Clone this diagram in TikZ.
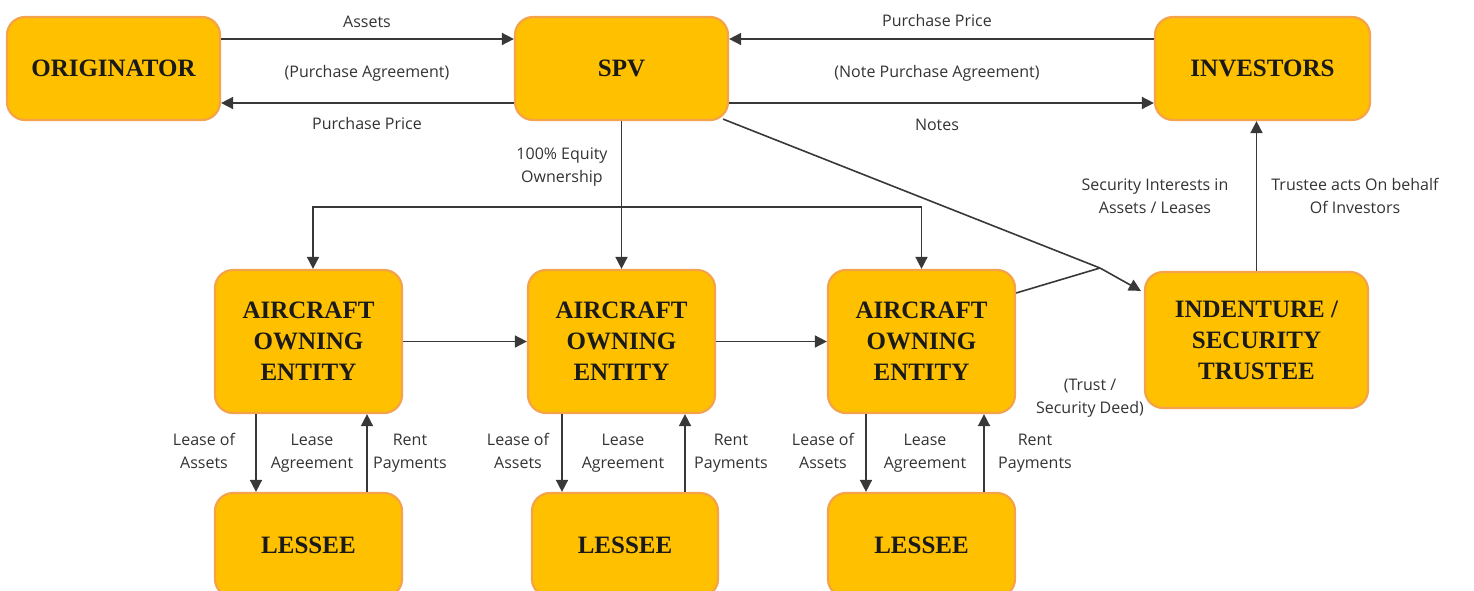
\documentclass[tikz,border=0pt]{standalone}
\usepackage{fontspec}
\setmainfont{Liberation Serif}
\newfontfamily\lblfont{Open Sans}
\usetikzlibrary{arrows.meta,calc}
\definecolor{boxfill}{HTML}{FFC000}
\definecolor{boxline}{HTML}{F4A34A}
\definecolor{wirecol}{HTML}{383838}
\definecolor{ink}{HTML}{1A1A1A}
\definecolor{lblcol}{HTML}{333333}
\begin{document}
\begin{tikzpicture}[x=0.5pt,y=-0.5pt,
  party/.style={draw=boxline,line width=1.1pt,fill=boxfill,rounded corners=9pt,
    align=center,font=\fontsize{12.5}{15.5}\selectfont\bfseries,text=ink,inner sep=0pt},
  wide/.style={minimum width=106.5pt,minimum height=51.5pt},
  entity/.style={minimum width=93.5pt,minimum height=71.5pt},
  lab/.style={font=\lblfont\fontsize{8}{11.5}\selectfont,text=lblcol,align=center,inner sep=0pt,
    yshift=-1.25pt,execute at begin node=\strut,execute at end node=\strut},
  arr/.style={draw=wirecol,line width=0.8pt,-{Triangle[length=6pt,width=6pt]}},
  link/.style={draw=wirecol,line width=0.8pt}]

\useasboundingbox (0,0) rectangle (1474,590);
\clip (0,0) rectangle (1474,590);

% top row
\node[party,wide] (orig) at (113.5,68.5) {ORIGINATOR};
\node[party,wide] (spv)  at (621.5,68.5) {SPV};
\node[party,wide,minimum width=107.5pt] (inv) at (1262.5,68.5) {INVESTORS};

% aircraft owning entities and trustee
\node[party,entity] (aoe1) at (308.5,341.5) {AIRCRAFT\\OWNING\\ENTITY};
\node[party,entity] (aoe2) at (621.5,341.5) {AIRCRAFT\\OWNING\\ENTITY};
\node[party,entity] (aoe3) at (921.5,341.5) {AIRCRAFT\\OWNING\\ENTITY};
\node[party,minimum width=111.5pt,minimum height=68pt] (trust) at (1256.5,340) {INDENTURE /\\SECURITY\\TRUSTEE};

% lessees
\node[party,minimum width=93.5pt,minimum height=52pt] (les1) at (308.5,545) {LESSEE};
\node[party,minimum width=93pt,minimum height=52pt] (les2) at (625,545) {LESSEE};
\node[party,minimum width=93.5pt,minimum height=52pt] (les3) at (921.5,545) {LESSEE};

% originator <-> spv
\draw[arr] ([yshift=14.75pt]orig.east) -- ([yshift=14.75pt]spv.west);
\draw[arr] ([yshift=-17.25pt]spv.west) -- ([yshift=-17.25pt]orig.east);
\node[lab] (l1) at (367,20) {Assets};
\node[lab] (l2) at (367,70) {(Purchase Agreement)};
\node[lab] (l3) at (367,122) {Purchase Price};

% spv <-> investors
\draw[arr] ([yshift=14.75pt]inv.west) -- ([yshift=14.75pt]spv.east);
\draw[arr] ([yshift=-17.25pt]spv.east) -- ([yshift=-17.25pt]inv.west);
\node[lab] (l4) at (937,19) {Purchase Price};
\node[lab] (l5) at (937,70) {(Note Purchase Agreement)};
\node[lab] (l6) at (937,123) {Notes};

% equity ownership
\coordinate (split) at (621.5,207);
\draw[arr] (spv.south) -- (aoe2.north);
\draw[arr] (split) -| ([xshift=2.25pt]aoe1.north);
\draw[arr] (split) -| (aoe3.north);
\node[lab] (l7) at (562,166) {100\% Equity\\Ownership};

% entity chain
\draw[arr] (aoe1.east) -- (aoe2.west);
\draw[arr] (aoe2.east) -- (aoe3.west);

% security interests
\coordinate (knot) at (1100,268);
\draw[link] ([shift={(-6,-2)}]spv.south east) -- (knot);
\draw[link] ([yshift=24.25pt]aoe3.east) -- (knot);
\draw[arr] (knot) -- ([shift={(-3,20)}]trust.north west);
\node[lab] (l8) at (1155,197) {Security Interests in\\Assets / Leases};
\node[lab] (l9) at (1090,397) {(Trust /\\Security Deed)};

% trustee -> investors
\draw[arr] (trust.north) -- (inv.south -| trust.north);
\node[lab] (l10) at (1355,197) {Trustee acts On behalf\\Of Investors};

% leases
\draw[arr] ([xshift=-26.25pt]aoe1.south) -- ([xshift=-26.25pt]aoe1.south |- les1.north);
\draw[arr] ([xshift=29.25pt]aoe1.south |- les1.north) -- ([xshift=29.25pt]aoe1.south);
\draw[arr] ([xshift=-29.75pt]aoe2.south) -- ([xshift=-29.75pt]aoe2.south |- les2.north);
\draw[arr] ([xshift=31.75pt]aoe2.south |- les2.north) -- ([xshift=31.75pt]aoe2.south);
\draw[arr] ([xshift=-27.75pt]aoe3.south) -- ([xshift=-27.75pt]aoe3.south |- les3.north);
\draw[arr] ([xshift=31.25pt]aoe3.south |- les3.north) -- ([xshift=31.25pt]aoe3.south);

\node[lab] (a1) at (204,452) {Lease of\\Assets};
\node[lab] (b1) at (312,452) {Lease\\Agreement};
\node[lab] (c1) at (410,452) {Rent\\Payments};
\node[lab] (a2) at (518,452) {Lease of\\Assets};
\node[lab] (b2) at (623,452) {Lease\\Agreement};
\node[lab] (c2) at (731,452) {Rent\\Payments};
\node[lab] (a3) at (823,452) {Lease of\\Assets};
\node[lab] (b3) at (925,452) {Lease\\Agreement};
\node[lab] (c3) at (1035,452) {Rent\\Payments};
\end{tikzpicture}
\end{document}
